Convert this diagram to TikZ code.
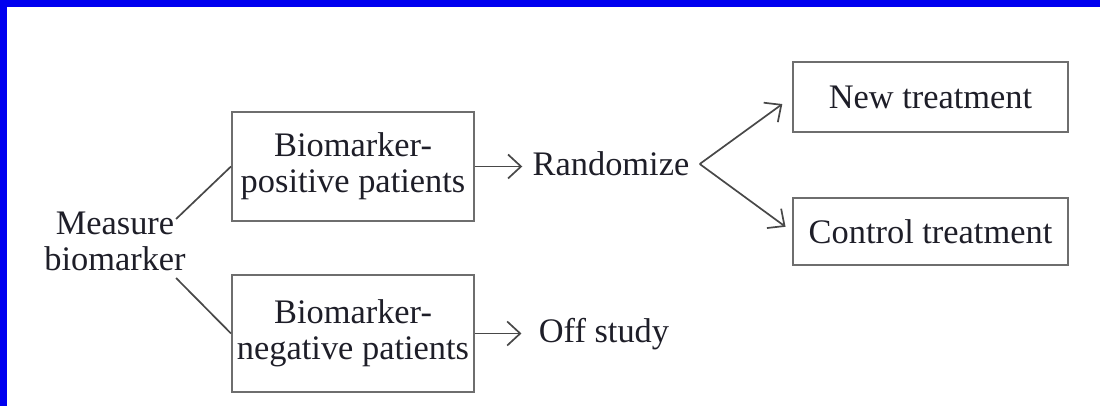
\documentclass[tikz,border=0pt]{standalone}
\usepackage{fontspec}
\setmainfont{Liberation Serif}
\usepackage{tikz}
\usetikzlibrary{arrows.meta}

\definecolor{boxgray}{HTML}{6E6E6E}
\definecolor{linegray}{HTML}{484848}
\definecolor{txt}{HTML}{1E1E28}
\definecolor{frameblue}{HTML}{0000F0}

\begin{document}
\begin{tikzpicture}[x=0.5pt, y=-0.5pt,
    every node/.style={font=\fontsize{17.2}{18}\selectfont, text=txt},
    group/.style={draw=boxgray, line width=1pt, minimum width=121pt, align=center, inner sep=0pt},
    arm/.style={draw=boxgray, line width=1pt, minimum width=137.5pt, inner sep=0pt},
    word/.style={inner sep=5pt},
    link/.style={draw=linegray, line width=0.85pt},
    >={Straight Barb[length=6.5pt, width=12pt, line width=0.85pt]}]
    \useasboundingbox (0,0) rectangle (1100,406);
    \fill[frameblue] (0,0) rectangle (1100,7);
    \fill[frameblue] (0,0) rectangle (7,406);

    % left column
    \node[align=center, inner sep=0pt] (mb) at (115,241) {Measure\\biomarker};
    \node[group, minimum height=54.5pt] (bp) at (353,166.5) {Biomarker-\\positive patients};
    \node[group, minimum height=58.5pt] (bn) at (353,333.5) {Biomarker-\\negative patients};

    % middle
    \node[word] (rand) at (611,164) {Randomize};
    \node[word] (off) at (604,334) {Off study};

    % right column
    \node[arm, minimum height=35pt] (nt) at (930.5,97) {New treatment};
    \node[arm, minimum height=33.5pt] (ct) at (930.5,231.5) {Control treatment};

    \draw[link] ([shift={(-10,-22)}]mb.east) -- (bp.west);
    \draw[link] ([shift={(-10,37)}]mb.east) -- (bn.west);
    \draw[link, ->] (bp.east) -- (bp.east -| rand.west);
    \draw[link, ->, shorten >=3.5pt] (bn.east) -- (bn.east -| off.west);
    \draw[link, ->, shorten >=6pt] (rand.east) -- (nt.west);
    \draw[link, ->, shorten >=4pt] (rand.east) -- (ct.west);
\end{tikzpicture}
\end{document}
